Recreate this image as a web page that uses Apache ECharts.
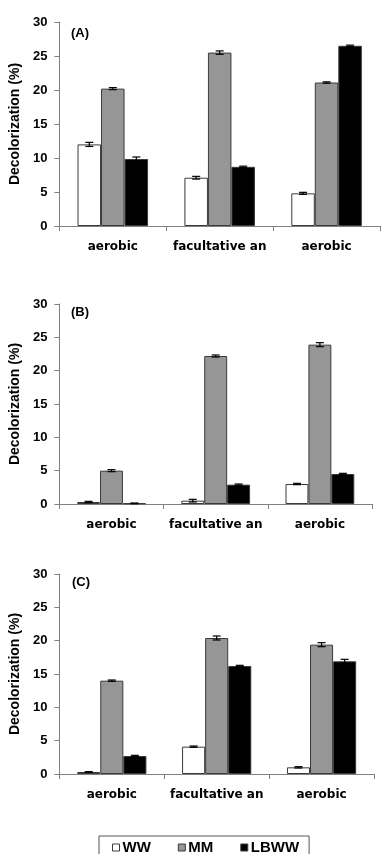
<!DOCTYPE html>
<html>
<head>
<meta charset="utf-8">
<script src="https://cdn.jsdelivr.net/npm/echarts@6/dist/echarts.min.js"></script>
<style>
  html, body { margin: 0; padding: 0; background: #fff; }
  #main { width: 387px; height: 854px; }
</style>
</head>
<body>
<div id="main"></div>
<script>
var categories = ['aerobic', 'facultative an', 'aerobic'];
var seriesNames = ['WW', 'MM', 'LBWW'];
var panelLabels = ['(A)', '(B)', '(C)'];
var yTicks = [0, 5, 10, 15, 20, 25, 30];

// panel A
var wwA = [12.0, 7.1, 4.8];
var mmA = [20.2, 25.5, 21.1];
var lbA = [9.85, 8.7, 26.5];
var wwAerr = [0.3, 0.2, 0.15];
var mmAerr = [0.15, 0.25, 0.1];
var lbAerr = [0.3, 0.1, 0.1];
// panel B
var wwB = [0.3, 0.5, 3.0];
var mmB = [5.0, 22.2, 23.9];
var lbB = [0.1, 2.9, 4.5];
var wwBerr = [0.1, 0.2, 0.1];
var mmBerr = [0.15, 0.15, 0.3];
var lbBerr = [0.05, 0.1, 0.1];
// panel C
var wwC = [0.3, 4.1, 1.0];
var mmC = [14.0, 20.4, 19.4];
var lbC = [2.7, 16.2, 16.9];
var wwCerr = [0.05, 0.1, 0.1];
var mmCerr = [0.1, 0.3, 0.3];
var lbCerr = [0.1, 0.1, 0.3];

var panels = [
  { vals: [wwA, mmA, lbA], errs: [wwAerr, mmAerr, lbAerr] },
  { vals: [wwB, mmB, lbB], errs: [wwBerr, mmBerr, lbBerr] },
  { vals: [wwC, mmC, lbC], errs: [wwCerr, mmCerr, lbCerr] }
];

var fills = ['#ffffff', '#969696', '#000000'];
var catGap = 0.34;

var grids = [
  { left: 54, top: 22, width: 326, height: 204 },
  { left: 54, top: 304, width: 318, height: 200 },
  { left: 55, top: 574, width: 319, height: 200 }
];

var chart = echarts.init(document.getElementById('main'), null, { renderer: 'canvas' });

var xAxes = [], yAxes = [], series = [], graphics = [];

grids.forEach(function (g, p) {
  xAxes.push({
    type: 'category',
    gridIndex: p,
    data: categories,
    axisLine: { lineStyle: { color: '#808080', width: 1 } },
    axisTick: { show: true, length: 5, lineStyle: { color: '#808080' } },
    axisLabel: {
      interval: 0,
      hideOverlap: false,
      color: '#000', fontFamily: 'DejaVu Sans', fontWeight: 'bold', fontSize: 12, margin: 15
    }
  });
  yAxes.push({
    type: 'value',
    gridIndex: p,
    min: 0, max: 30, interval: 5,
    name: 'Decolorization (%)',
    nameLocation: 'middle',
    nameGap: 35,
    nameTextStyle: { color: '#000', fontFamily: 'Arial', fontWeight: 'bold', fontSize: 14 },
    axisLine: { show: true, lineStyle: { color: '#808080', width: 1 } },
    axisTick: { show: true, length: 5, lineStyle: { color: '#808080' } },
    splitLine: { show: false },
    axisLabel: {
      color: '#000', fontFamily: 'Arial', fontWeight: 'bold', fontSize: 13, margin: 12,
      formatter: function (v) { return yTicks.indexOf(v) >= 0 ? String(v) : ''; }
    }
  });

  var panel = panels[p];
  seriesNames.forEach(function (name, s) {
    series.push({
      name: name,
      type: 'bar',
      xAxisIndex: p,
      yAxisIndex: p,
      data: panel.vals[s],
      barGap: '0%',
      barCategoryGap: (catGap * 100) + '%',
      itemStyle: { color: fills[s], borderColor: '#3a3a3a', borderWidth: 1 },
      silent: true,
      z: 2
    });
  });
  seriesNames.forEach(function (name, s) {
    var errData = panel.vals[s].map(function (v, i) { return [i, v, panel.errs[s][i]]; });
    series.push({
      type: 'custom',
      xAxisIndex: p,
      yAxisIndex: p,
      data: errData,
      z: 5,
      silent: true,
      renderItem: function (params, api) {
        var ci = api.value(0), v = api.value(1), e = api.value(2);
        var bandW = api.size([1, 0])[0];
        var barW = bandW * (1 - catGap) / 3;
        var off = (s - 1) * barW;
        var hi = api.coord([ci, v + e]);
        var lo = api.coord([ci, v - e]);
        var x = hi[0] + off;
        var cap = 4;
        var st = { stroke: '#000', lineWidth: 1.2 };
        return {
          type: 'group',
          children: [
            { type: 'line', shape: { x1: x, y1: hi[1], x2: x, y2: lo[1] }, style: st },
            { type: 'line', shape: { x1: x - cap, y1: hi[1], x2: x + cap, y2: hi[1] }, style: st },
            { type: 'line', shape: { x1: x - cap, y1: lo[1], x2: x + cap, y2: lo[1] }, style: st }
          ]
        };
      }
    });
  });

  graphics.push({
    type: 'text',
    left: g.left + 17,
    top: g.top + (p === 0 ? 5 : 2),
    style: {
      text: panelLabels[p],
      fill: '#000',
      font: 'bold 13px Arial'
    }
  });
});

var option = {
  animation: false,
  backgroundColor: '#fff',
  grid: grids,
  xAxis: xAxes,
  yAxis: yAxes,
  series: series,
  graphic: graphics,
  legend: {
    data: seriesNames,
    left: 99,
    top: 836,
    orient: 'horizontal',
    icon: 'rect',
    itemWidth: 7,
    itemHeight: 7,
    itemGap: 27,
    borderColor: '#555',
    borderWidth: 1,
    padding: [4, 10, 12, 13],
    selectedMode: false,
    itemStyle: { borderColor: '#3a3a3a', borderWidth: 1 },
    textStyle: { color: '#000', fontFamily: 'Arial', fontWeight: 'bold', fontSize: 15, padding: [0, 0, 0, -2] }
  }
};

chart.setOption(option);
</script>
</body>
</html>
